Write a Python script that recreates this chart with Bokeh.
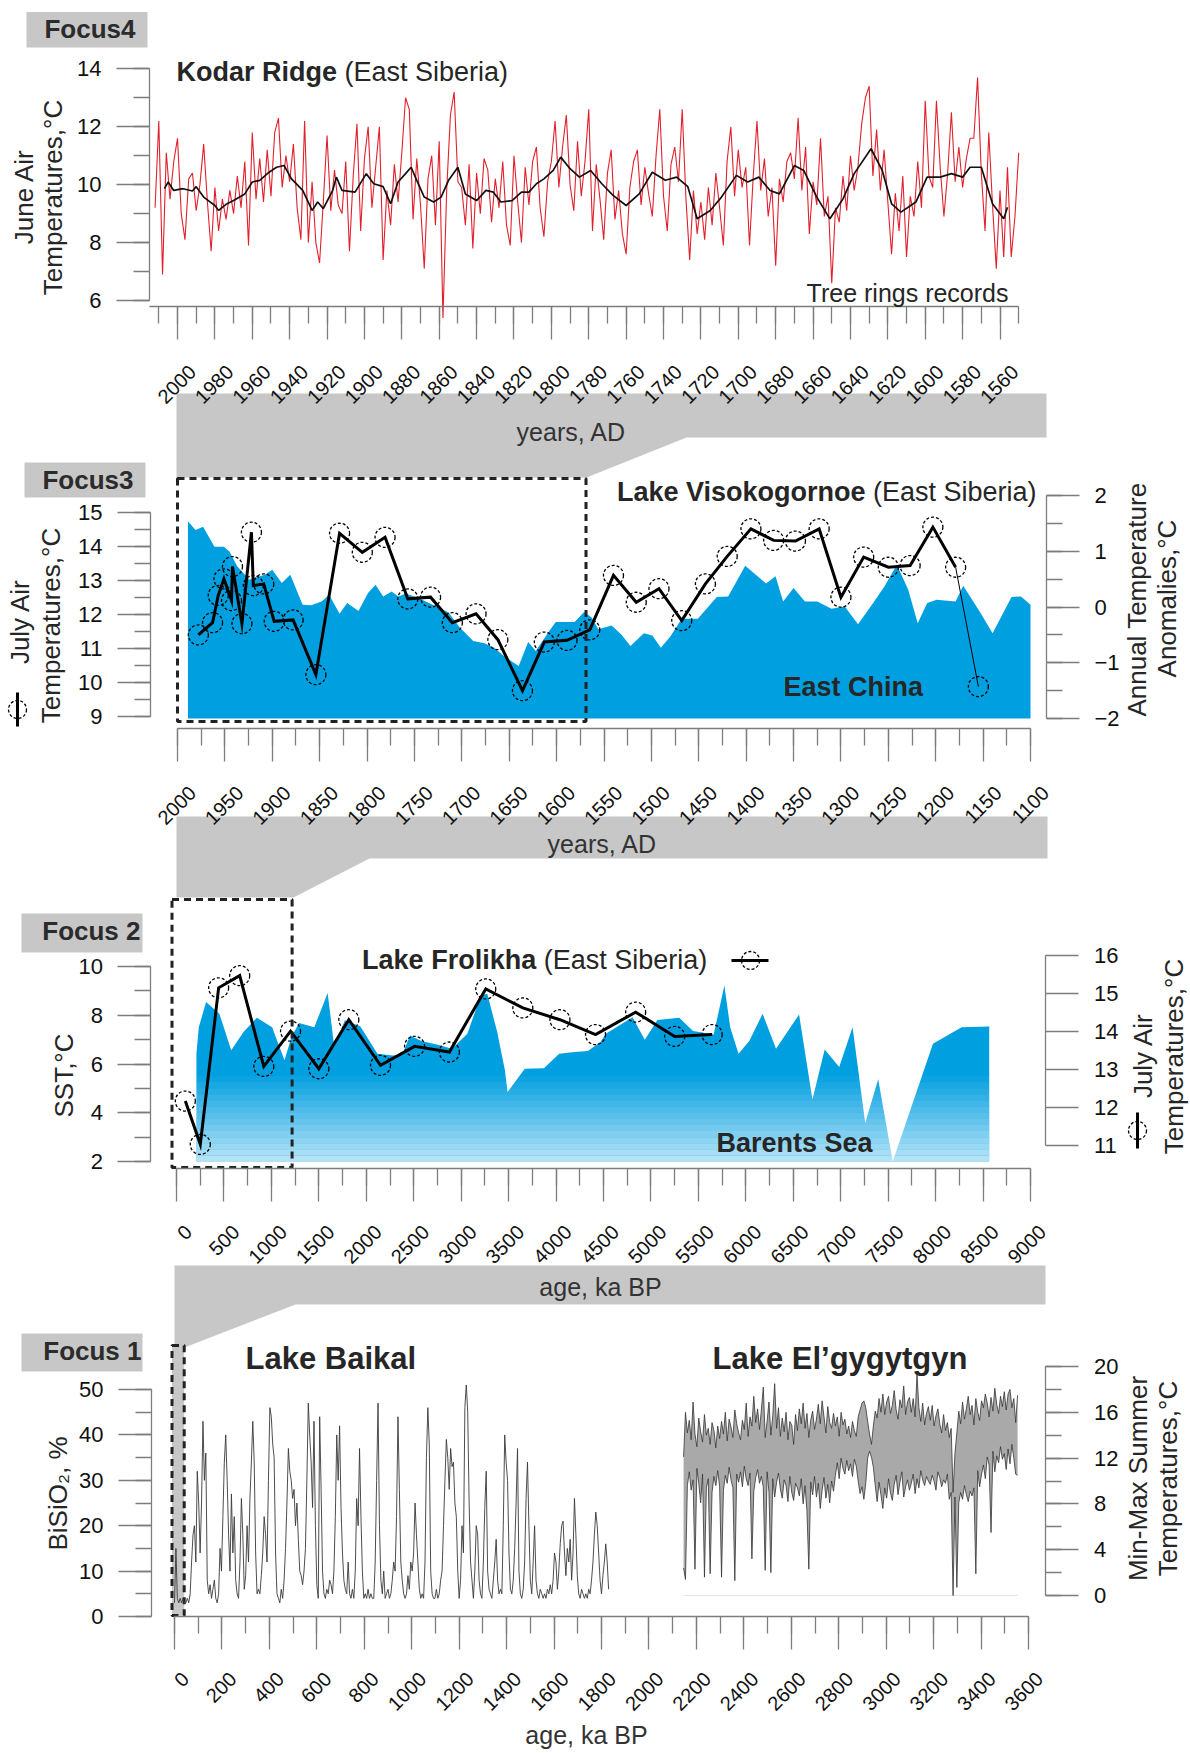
import math
from bokeh.plotting import figure
from bokeh.models import Range1d, LinearAxis, SingleIntervalTicker, Label
from bokeh.embed import file_html
from bokeh.resources import INLINE

# ======================= DATA =======================
# Focus 4 - Kodar Ridge (tree rings), June air temperature, degC
kodar_years = list(range(2012, 1549, -2))
kodar_june = [
    9.2, 12.2, 6.9, 11.1, 9.5, 10.8, 11.6, 9.0, 8.1, 10.2,
    10.4, 9.1, 10.0, 11.4, 9.4, 7.7, 9.9, 8.4, 9.5, 8.8,
    9.8, 9.0, 10.3, 9.2, 10.8, 7.9, 11.8, 9.5, 10.9, 9.4,
    11.2, 9.6, 11.8, 12.3, 9.9, 11.0, 10.1, 11.4, 9.2, 8.1,
    12.2, 8.0, 10.1, 8.0, 7.3, 9.4, 11.7, 9.1, 10.5, 9.3,
    9.0, 10.8, 7.7, 10.3, 12.1, 8.4, 10.9, 12.0, 9.2, 10.6,
    12.0, 7.4, 9.8, 8.6, 10.7, 9.4, 11.1, 13.0, 12.6, 8.8,
    10.9, 9.3, 7.1, 10.2, 11.0, 8.6, 11.5, 5.4, 9.8, 12.4,
    13.2, 10.1, 9.9, 8.6, 10.7, 7.8, 10.4, 9.0, 10.9, 10.5,
    8.7, 10.2, 9.2, 10.8, 8.6, 7.9, 11.0, 9.4, 8.0, 10.6,
    9.3, 10.8, 11.3, 9.2, 8.2, 10.1, 10.8, 12.2, 9.9, 11.3,
    12.4, 10.0, 9.1, 11.5, 9.6, 10.8, 12.6, 8.4, 10.7, 9.5,
    8.1, 10.4, 11.2, 8.8, 9.8, 8.3, 7.6, 9.9, 10.8, 11.2,
    9.3, 10.6, 9.7, 8.9, 11.0, 12.6, 9.6, 8.4, 10.7, 11.3,
    10.1, 12.6, 9.5, 7.4, 9.8, 8.3, 9.4, 8.1, 9.9, 8.6,
    10.4, 9.2, 7.9, 10.8, 12.0, 9.6, 11.2, 9.9, 10.6, 7.9,
    10.3, 12.2, 9.8, 10.9, 8.9, 9.9, 7.2, 10.2, 9.4, 10.8,
    11.1, 10.2, 12.3, 9.8, 11.3, 8.3, 10.1, 9.3, 11.6, 8.9,
    9.6, 6.6, 9.2, 8.7, 10.3, 9.1, 11.0, 9.8, 10.6, 12.1,
    13.0, 13.4, 10.3, 11.9, 9.8, 11.2, 9.4, 7.6, 9.7, 8.4,
    10.3, 7.5, 9.6, 8.9, 10.8, 9.2, 12.9, 10.3, 9.9, 12.9,
    10.6, 8.9, 10.4, 12.5, 10.1, 11.3, 9.9, 10.9, 11.6, 11.6,
    13.7, 10.4, 8.4, 11.8, 9.3, 7.1, 9.8, 7.5, 10.6, 7.5,
    8.9, 11.1]
kodar_smooth_years = [
    2007, 2005, 2002, 1997, 1992, 1990, 1986, 1980, 1978, 1974,
    1970, 1964, 1960, 1956, 1951, 1947, 1943, 1939, 1933, 1928,
    1925, 1922, 1917, 1915, 1912, 1905, 1899, 1895, 1890, 1886,
    1882, 1878, 1875, 1872, 1868, 1863, 1859, 1855, 1850, 1846,
    1840, 1835, 1831, 1827, 1821, 1816, 1812, 1808, 1804, 1799,
    1795, 1790, 1785, 1779, 1773, 1767, 1760, 1753, 1746, 1739,
    1733, 1727, 1722, 1715, 1709, 1701, 1695, 1689, 1683, 1678,
    1670, 1665, 1658, 1651, 1644, 1638, 1629, 1623, 1618, 1613,
    1605, 1599, 1592, 1586, 1580, 1576, 1570, 1564, 1558, 1556]
kodar_smooth = [
    9.86, 10.09, 9.80, 9.86, 9.78, 9.93, 9.57, 9.28, 9.11, 9.32,
    9.45, 9.68, 10.09, 10.15, 10.43, 10.60, 10.66, 10.20, 9.80, 9.11,
    9.40, 9.17, 9.80, 10.26, 9.80, 9.74, 10.38, 10.03, 9.93, 9.34,
    10.09, 10.38, 10.60, 10.15, 9.57, 9.40, 9.57, 10.15, 10.60, 9.68,
    9.45, 9.80, 9.74, 9.40, 9.45, 9.74, 9.74, 10.03, 10.20, 10.49,
    10.95, 10.55, 10.26, 10.49, 10.03, 9.63, 9.28, 9.68, 10.43, 10.15,
    10.26, 9.93, 8.82, 9.11, 9.57, 10.32, 10.09, 10.26, 9.80, 9.68,
    10.66, 10.49, 9.57, 8.82, 9.51, 10.38, 11.24, 10.49, 9.34, 9.05,
    9.40, 10.26, 10.26, 10.38, 10.26, 10.60, 10.60, 9.34, 8.82, 9.22]

# Focus 3 - Lake Visokogornoe July air temperature (left) / East China anomalies (right)
viso_years = [1978, 1963, 1957, 1951, 1943, 1942, 1932, 1922, 1920, 1909,
              1898, 1878, 1854, 1829, 1805, 1781, 1757, 1733, 1710, 1685,
              1662, 1636, 1613, 1589, 1565, 1540, 1516, 1492, 1468, 1443,
              1420, 1395, 1371, 1348, 1323, 1300, 1276, 1250, 1227, 1203,
              1179, 1155]
viso_july = [11.40, 11.76, 12.56, 13.05, 12.41, 13.41, 11.73, 14.42, 12.85, 12.90,
             11.80, 11.84, 10.23, 14.39, 13.83, 14.27, 12.46, 12.51, 11.76, 12.02,
             11.26, 9.76, 11.19, 11.24, 11.55, 13.15, 12.36, 12.76, 11.82, 12.90,
             13.71, 14.52, 14.18, 14.16, 14.52, 12.51, 13.69, 13.39, 13.44, 14.57,
             13.39, 9.88]
china_years = [1989, 1981, 1973, 1961, 1951, 1945, 1937, 1924, 1908, 1900,
               1890, 1881, 1868, 1859, 1848, 1840, 1829, 1821, 1809, 1799,
               1791, 1783, 1774, 1767, 1759, 1743, 1727, 1714, 1702, 1688,
               1676, 1666, 1654, 1640, 1630, 1622, 1609, 1601, 1581, 1571,
               1563, 1556, 1542, 1532, 1522, 1508, 1499, 1490, 1480, 1468,
               1451, 1431, 1419, 1401, 1379, 1369, 1361, 1350, 1338, 1325,
               1310, 1296, 1282, 1266, 1254, 1241, 1229, 1219, 1209, 1199,
               1179, 1171, 1153, 1140, 1120, 1110, 1100]
china_anom = [1.54, 1.38, 1.44, 1.08, 1.08, 0.99, 0.73, 0.49, 0.58, 0.67,
              0.43, 0.58, 0.04, 0.03, 0.10, 0.22, -0.12, 0.07, -0.07, 0.25,
              0.40, 0.19, 0.28, 0.19, 0.24, 0.14, 0.01, -0.10, -0.37, -0.61,
              -0.65, -0.73, -0.90, -1.06, -0.63, -0.79, -0.46, -0.27, -0.27, -0.09,
              -0.19, -0.40, -0.33, -0.49, -0.70, -0.47, -0.51, -0.73, -0.53, -0.21,
              -0.21, 0.18, 0.19, 0.74, 0.42, 0.55, 0.10, 0.34, 0.10, 0.10,
              -0.03, 0.01, -0.31, 0.07, 0.37, 0.76, 0.31, -0.29, 0.07, 0.13,
              0.10, 0.38, -0.10, -0.47, 0.18, 0.19, 0.04]

# Focus 2 - Lake Frolikha July air temperature (right) / Barents Sea SST (left)
frol_age = [93, 251, 444, 666, 920, 1202, 1500, 1816, 2150, 2509,
            2876, 3259, 3650, 4041, 4416, 4839, 5250, 5645]
frol_july = [12.17, 11.03, 15.15, 15.47, 13.08, 14.01, 13.02, 14.31, 13.11, 13.61,
             13.46, 15.12, 14.62, 14.31, 13.92, 14.51, 13.87, 13.92]
barents_age = [210, 235, 312, 452, 577, 706, 847, 1008, 1138, 1211,
               1291, 1452, 1593, 1662, 1775, 1936, 2118, 2279, 2380, 2461,
               2581, 2743, 2904, 3065, 3207, 3275, 3380, 3461, 3489, 3670,
               3872, 4033, 4194, 4335, 4468, 4524, 4806, 4935, 5068, 5298,
               5444, 5661, 5774, 5835, 5923, 6036, 6177, 6318, 6561, 6702,
               6831, 6984, 7125, 7258, 7395, 7548, 7972, 8274, 8565]
barents_sst = [6.42, 7.51, 8.54, 8.06, 6.56, 7.31, 7.90, 7.51, 6.15, 7.10,
               7.68, 7.51, 8.91, 6.72, 7.79, 7.55, 6.42, 6.35, 6.39, 7.17,
               6.94, 6.80, 6.63, 7.24, 8.81, 8.88, 7.31, 5.74, 4.85, 5.81,
               5.83, 6.42, 6.49, 6.53, 6.90, 7.24, 7.92, 6.99, 7.81, 7.90,
               7.35, 7.21, 9.22, 7.51, 6.42, 6.94, 8.06, 6.63, 8.03, 4.54,
               6.59, 5.88, 7.51, 3.58, 5.37, 2.00, 6.83, 7.51, 7.54]

# Focus 1 - Lake Baikal biogenic silica (left), Lake El'gygytgyn min/max summer T (right)
baikal_age = list(range(0, 1831, 6))
baikal_bsi = [
    3, 15, 4, 3, 4, 3, 4, 3, 3, 4,
    3, 5, 12, 18, 20, 12, 32, 25, 14, 25,
    43, 30, 36, 8, 5, 7, 4, 6, 8, 4,
    3, 5, 15, 10, 22, 34, 40, 30, 18, 10,
    27, 14, 22, 8, 5, 4, 12, 26, 18, 6,
    9, 20, 12, 26, 34, 43, 34, 14, 5, 6,
    5, 9, 14, 22, 18, 12, 30, 46, 44, 38,
    35, 14, 5, 4, 3, 6, 4, 8, 15, 25,
    37, 32, 30, 26, 28, 20, 25, 17, 10, 9,
    7, 10, 15, 30, 47, 40, 34, 24, 43, 20,
    7, 4, 44, 28, 10, 5, 4, 6, 5, 8,
    7, 5, 10, 22, 40, 30, 42, 24, 14, 8,
    6, 5, 12, 5, 4, 6, 4, 10, 26, 20,
    37, 22, 10, 4, 5, 4, 6, 4, 5, 4,
    4, 12, 30, 47, 20, 8, 5, 10, 4, 5,
    6, 4, 5, 8, 12, 10, 22, 44, 28, 12,
    8, 5, 4, 5, 9, 6, 12, 10, 14, 25,
    18, 12, 6, 4, 5, 4, 12, 35, 46, 38,
    10, 5, 4, 4, 6, 4, 5, 8, 10, 20,
    30, 39, 35, 28, 37, 33, 34, 25, 22, 10,
    4, 8, 20, 14, 46, 51, 45, 25, 12, 8,
    4, 10, 20, 18, 8, 5, 4, 12, 24, 32,
    10, 6, 5, 4, 8, 12, 17, 8, 5, 6,
    5, 20, 40, 34, 30, 14, 6, 5, 8, 15,
    25, 37, 10, 5, 4, 6, 12, 26, 34, 20,
    8, 5, 12, 20, 8, 5, 4, 6, 5, 4,
    5, 4, 6, 5, 7, 5, 8, 14, 12, 6,
    10, 16, 20, 21, 14, 9, 15, 12, 17, 8,
    14, 26, 18, 9, 5, 4, 6, 5, 4, 5,
    4, 6, 5, 8, 12, 18, 23, 20, 14, 8,
    5, 9, 12, 16, 12, 6]
elg_age = list(range(2146, 3555, 8))
elg_max = [
    12.1, 16.0, 14.2, 15.3, 13.6, 16.9, 14.1, 13.0, 15.5, 14.3,
    13.4, 15.8, 14.0, 14.6, 13.2, 15.1, 14.4, 12.9, 14.8, 13.7,
    15.2, 14.1, 16.0, 13.5, 15.4, 14.7, 13.8, 16.2, 15.0, 14.2,
    13.6, 15.3, 14.5, 16.8, 13.9, 15.6, 14.8, 17.4, 15.1, 16.3,
    14.5, 16.2, 18.2, 13.8, 15.2, 16.9, 14.0, 15.7, 18.5, 14.6,
    16.4, 13.9, 15.5, 14.3, 16.0, 13.6, 15.2, 14.9, 13.2, 15.8,
    14.4, 16.3, 15.0, 16.8, 14.6, 15.9, 13.8, 15.3, 16.1, 14.5,
    15.4, 16.7, 15.0, 17.0, 15.6, 14.2, 16.5, 15.1, 14.6, 15.9,
    14.8, 15.6, 13.9, 16.0, 14.9, 15.4, 14.1, 14.8, 13.8, 15.2,
    14.4, 13.9, 15.6, 16.2, 16.8, 17.0, 16.4, 15.2, 14.1, 13.2,
    14.8, 16.1, 15.5, 17.2, 16.0, 17.6, 15.8, 16.9, 17.4, 15.9,
    16.6, 17.9, 16.2, 15.4, 17.1, 16.4, 18.3, 15.8, 16.9, 17.3,
    16.0, 17.2, 15.6, 19.3, 16.4, 15.2, 16.8, 14.9, 15.9, 16.5,
    15.3, 16.6, 14.8, 15.7, 16.3, 15.0, 14.2, 15.8, 14.4, 15.1,
    13.8, 14.6, 9.0, 12.4, 14.2, 16.1, 15.0, 16.9, 15.4, 16.3,
    17.4, 15.8, 16.6, 14.9, 17.2, 16.0, 15.3, 17.0, 16.4, 17.6,
    16.8, 15.6, 17.3, 16.1, 18.1, 16.7, 15.9, 17.4, 16.5, 17.8,
    16.2, 17.6, 18.0, 16.4, 17.2, 15.1, 17.5]
elg_min = [
    2.4, 1.4, 9.6, 10.8, 9.2, 10.1, 2.3, 11.1, 9.8, 8.1,
    10.6, 1.6, 9.4, 10.2, 1.9, 9.0, 10.4, 9.6, 10.9, 9.5,
    1.6, 9.2, 10.5, 9.8, 11.2, 10.1, 9.4, 1.3, 10.6, 9.9,
    10.8, 9.5, 11.3, 10.2, 9.6, 10.7, 3.2, 9.1, 10.3, 11.0,
    9.8, 10.4, 9.5, 2.2, 10.8, 9.0, 2.0, 10.2, 8.6, 9.9,
    10.7, 9.3, 8.5, 10.1, 9.6, 8.2, 10.4, 9.0, 8.3, 9.8,
    9.4, 8.7, 10.2, 8.0, 9.6, 7.4, 2.3, 9.9, 8.8, 10.4,
    8.6, 9.8, 7.6, 9.2, 10.3, 8.5, 9.7, 8.1, 10.0, 9.1,
    10.5, 11.6, 10.2, 12.0, 11.1, 10.6, 11.8, 10.9, 11.5, 10.4,
    11.9, 11.3, 10.0, 8.9, 9.5, 8.4, 9.8, 12.0, 12.6, 12.1,
    11.2, 9.6, 8.2, 9.9, 8.8, 7.6, 9.4, 8.5, 10.2, 9.0,
    8.3, 9.7, 10.5, 8.8, 9.9, 10.8, 8.6, 9.5, 10.1, 9.2,
    9.8, 10.6, 8.9, 10.2, 9.4, 10.9, 10.1, 9.6, 10.4, 10.0,
    9.7, 10.5, 10.0, 9.2, 10.8, 10.3, 9.5, 10.1, 9.8, 10.6,
    8.4, 9.0, 0.0, 8.6, 0.7, 8.1, 9.0, 8.4, 9.6, 8.8,
    8.2, 9.1, 8.7, 9.4, 1.9, 10.9, 9.5, 10.6, 11.4, 10.2,
    12.1, 11.4, 5.5, 12.6, 10.8, 12.2, 11.6, 13.0, 11.9, 12.4,
    11.0, 12.8, 11.5, 13.2, 12.0, 10.6, 10.5]

# ======================= STYLE / LAYOUT =======================
FONT = "Liberation Sans"
TXT = "#262626"
AXC = "#7d7d7d"
BLUE = "#009fe0"
GRAY = "#c7c7c7"
RED = "#e2202c"

# canvas sits at the page's top-left corner
W, H = 1190, 1752
X0, Y0 = 0, 0
X1, Y1 = X0 + W, Y0 + H

xr, yr = {}, {}


def lin(v0, p0, v1, p1):
    b = (p1 - p0) / (v1 - v0)
    return p0 - b * v0, b


def reg_x(name, anchors, shift=0.0):
    v0, p0, v1, p1 = anchors
    a, b = lin(v0, p0 + shift, v1, p1 + shift)
    xr[name] = Range1d(start=(X0 - a) / b, end=(X1 - a) / b)
    return lambda pix: (pix - a) / b


def reg_y(name, anchors):
    a, b = lin(*anchors)
    yr[name] = Range1d(start=(Y1 - a) / b, end=(Y0 - a) / b)
    return lambda pix: (pix - a) / b


# (value, page px, value, page px)
A_X4 = (2000, 177, 1560, 999.5)
A_X3 = (2000, 177, 1100, 1030)
A_X2 = (0, 176, 9000, 1030)
A_X1 = (0, 174, 3600, 1028)
inv_x4 = reg_x("x4", A_X4)
reg_x("x4lab", A_X4, 15)
inv_y4 = reg_y("y4", (14, 68.3, 6, 300))
inv_x3 = reg_x("x3", A_X3)
reg_x("x3lab", A_X3, 15)
inv_y3l = reg_y("y3l", (15, 512, 9, 716))
inv_y3r = reg_y("y3r", (2, 495, -2, 718))
inv_x2 = reg_x("x2", A_X2)
reg_x("x2lab", A_X2, 12)
inv_y2l = reg_y("y2l", (10, 966, 2, 1161))
inv_y2r = reg_y("y2r", (16, 955, 11, 1145))
inv_x1 = reg_x("x1", A_X1)
reg_x("x1lab", A_X1, 11)
inv_y1l = reg_y("y1l", (50, 1389, 0, 1616))
inv_y1r = reg_y("y1r", (20, 1366, 0, 1595))

p = figure(width=W, height=H, output_backend="svg", toolbar_location=None,
           x_range=Range1d(X0, X1), y_range=Range1d(Y1, Y0),
           x_axis_type=None, y_axis_type=None, min_border=0,
           outline_line_color=None, background_fill_color="white",
           border_fill_color="white")
p.extra_x_ranges = xr
p.extra_y_ranges = yr


def style(ax, size, tout, mout, standoff):
    ax.axis_line_color = AXC
    ax.axis_line_width = 1.3
    ax.major_tick_line_color = AXC
    ax.major_tick_line_width = 1.3
    ax.minor_tick_line_color = AXC
    ax.minor_tick_line_width = 1.3
    ax.major_tick_in = 0
    ax.minor_tick_in = 0
    ax.major_tick_out = tout
    ax.minor_tick_out = mout
    ax.major_label_text_font = FONT
    ax.major_label_text_font_size = f"{size}px"
    ax.major_label_text_color = "#111111"
    ax.major_label_standoff = standoff


def xaxis(xn, yn, loc, bounds, interval, standoff):
    # tick axis (line + ticks)
    ax = LinearAxis(x_range_name=xn, y_range_name=yn, fixed_location=loc, bounds=bounds,
                    ticker=SingleIntervalTicker(interval=interval, num_minor_ticks=2))
    style(ax, 20, 33, 17, 14)
    ax.major_label_text_color = None
    p.add_layout(ax, "below")
    # label axis: same scale, labels centred under the ticks
    lab = LinearAxis(x_range_name=xn + "lab", y_range_name=yn, fixed_location=loc,
                     bounds=bounds,
                     ticker=SingleIntervalTicker(interval=interval, num_minor_ticks=2))
    style(lab, 20, 0, 0, standoff)
    lab.axis_line_color = None
    lab.major_tick_line_color = None
    lab.minor_tick_line_color = None
    lab.major_label_orientation = math.pi / 4
    p.add_layout(lab, "below")


def yaxis(xn, yn, loc, bounds, interval, side, minor=2):
    ax = LinearAxis(x_range_name=xn, y_range_name=yn, fixed_location=loc, bounds=bounds,
                    ticker=SingleIntervalTicker(interval=interval, num_minor_ticks=minor))
    style(ax, 22, 33, 16, 15)
    if minor == 0:
        ax.minor_tick_line_color = None
    p.add_layout(ax, side)


BASE_SHIFT = 0.39   # anchor offset (in em) between the label anchor and the text baseline


def label(x, y, text, size, bold=False, align="left", angle=0.0, color=TXT):
    # x, y give the baseline position of the text (page px)
    if angle == 0.0:
        y = y - BASE_SHIFT * size
    else:
        x = x - BASE_SHIFT * size
    p.add_layout(Label(x=x, y=y, text=text, text_font=FONT, text_font_size=f"{size}px",
                       text_font_style="bold" if bold else "normal", text_align=align,
                       text_baseline="alphabetic", angle=angle, text_color=color))


REG = {' ': 278, '(': 333, ')': 333, 'E': 667, 'S': 667, 'a': 556, 'b': 556, 'e': 556,
       'i': 222, 'r': 333, 's': 500, 't': 278}
BOLD = {' ': 278, 'L': 611, 'K': 722, 'R': 722, 'V': 667, 'F': 611, 'a': 556, 'd': 611,
        'e': 556, 'g': 611, 'h': 611, 'i': 278, 'k': 556, 'l': 278, 'n': 611, 'o': 611,
        'r': 389, 's': 556}


def tw(s, size, bold=False):
    t = BOLD if bold else REG
    return sum(t.get(c, 556) for c in s) * size / 1000.0


def vmarker(x, yc, half):
    p.line([x, x], [yc - half, yc + half], line_color="black", line_width=3)
    p.scatter([x], [yc], marker="circle", size=18, fill_color=None,
              line_color="black", line_width=1.3, line_dash="3 2")


# ----- gray bands joining panels (page layout) -----
bands = [
    ([176, 1046, 1046, 686, 586, 176], [393, 393, 437, 437, 477, 477]),
    ([176, 1047, 1047, 369, 293, 176], [816, 816, 858, 858, 897, 897]),
    ([174, 1045, 1045, 295, 184, 174], [1265, 1265, 1304, 1304, 1347, 1347]),
]
for bx, by in bands:
    p.patch(bx, by, fill_color=GRAY, line_color=None)

# ----- "Focus" tags -----
tags = [("Focus4", 26, 147, 11.5, 47, 135, 39),
        ("Focus3", 24, 145, 462, 497, 133, 490),
        ("Focus 2", 21, 142, 913, 952, 140, 941),
        ("Focus 1", 21, 142, 1333, 1371, 141, 1361)]
for t, l, r, tp, bt, tx, ty in tags:
    p.quad(left=[l], right=[r], top=[tp], bottom=[bt], fill_color=GRAY, line_color=None)
    label(tx, ty, t, 26, bold=True, align="right", color="#2b2b2b")

# ======================= FOCUS 4 =======================
p.line(kodar_years, kodar_june, x_range_name="x4", y_range_name="y4",
       line_color=RED, line_width=1.1)
p.line(kodar_smooth_years, kodar_smooth, x_range_name="x4", y_range_name="y4",
       line_color="#111111", line_width=1.7)
xaxis("x4", "y4", inv_y4(306), (1550, 2015), 20, 62)
yaxis("x4", "y4", inv_x4(149), (6, 14), 2, "left")
label(176, 82, "Kodar Ridge", 27, bold=True)
label(176 + tw("Kodar Ridge ", 27, True), 82, "(East Siberia)", 27)
label(1008, 302, "Tree rings records", 25, align="right")
label(34, 196, "June Air", 26, align="center", angle=math.pi / 2)
label(63, 197, "Temperatures,°C", 26, align="center", angle=math.pi / 2)
label(571, 441, "years, AD", 25, align="center", color="#333333")

# ======================= FOCUS 3 =======================
p.varea(x=china_years, y1=-2, y2=china_anom, x_range_name="x3", y_range_name="y3r",
        fill_color=BLUE)
p.line(viso_years[:-1], viso_july[:-1], x_range_name="x3", y_range_name="y3l",
       line_color="black", line_width=3, line_join="miter")
p.line(viso_years[-2:], viso_july[-2:], x_range_name="x3", y_range_name="y3l",
       line_color="black", line_width=1)
p.scatter(viso_years, viso_july, x_range_name="x3", y_range_name="y3l", marker="circle",
          size=20, fill_color=None, line_color="black", line_width=1.3, line_dash="3 2")
p.quad(left=[177], right=[585.5], top=[478], bottom=[721], fill_color=None,
       line_color="#222222", line_width=3, line_dash="7 5")
xaxis("x3", "y3l", inv_y3l(728), (1100, 2000), 50, 61)
yaxis("x3", "y3l", inv_x3(150), (9, 15), 1, "left")
yaxis("x3", "y3r", inv_x3(1046), (-2, 2), 1, "right")
label(1036 - tw("(East Siberia)", 27), 502, "Lake Visokogornoe ", 27, bold=True, align="right")
label(1036, 502, "(East Siberia)", 27, align="right")
label(783, 697, "East China", 27, bold=True)
label(30, 621, "July Air", 26, align="center", angle=math.pi / 2)
label(61, 625, "Temperatures,°C", 26, align="center", angle=math.pi / 2)
vmarker(17, 709, 17)
label(1147, 599, "Annual Temperature", 26, align="center", angle=math.pi / 2)
label(1177, 598, "Anomalies,°C", 26, align="center", angle=math.pi / 2)
label(602, 853, "years, AD", 25, align="center", color="#333333")

# ======================= FOCUS 2 =======================
p.varea(x=barents_age, y1=2, y2=barents_sst, x_range_name="x2", y_range_name="y2l",
        fill_color=BLUE)
# fading of the lower part of the SST area (gradient look)
for k in range(14):
    top_v = 5.5 - 0.25 * k
    p.quad(left=[barents_age[0]], right=[barents_age[-1]], top=[top_v], bottom=[top_v - 0.25],
           x_range_name="x2", y_range_name="y2l", fill_color="white",
           fill_alpha=0.05 * (k + 1), line_color=None)
p.line(frol_age, frol_july, x_range_name="x2", y_range_name="y2r",
       line_color="black", line_width=3, line_join="miter")
p.scatter(frol_age, frol_july, x_range_name="x2", y_range_name="y2r", marker="circle",
          size=20, fill_color=None, line_color="black", line_width=1.3, line_dash="3 2")
p.quad(left=[171.5], right=[291.6], top=[899], bottom=[1167], fill_color=None,
       line_color="#222222", line_width=3, line_dash="7 5")
xaxis("x2", "y2l", inv_y2l(1168), (0, 9000), 500, 60)
yaxis("x2", "y2l", inv_x2(150.4), (2, 10), 2, "left")
yaxis("x2", "y2r", inv_x2(1045.4), (11, 16), 1, "right", minor=0)
label(361.6, 970, "Lake Frolikha", 27, bold=True)
label(361.6 + tw("Lake Frolikha ", 27, True), 970, "(East Siberia)", 27)
p.line([731, 768], [960, 960], line_color="black", line_width=3)
p.scatter([750], [960], marker="circle", size=18, fill_color=None, line_color="black",
          line_width=1.3, line_dash="3 2")
label(716, 1153, "Barents Sea", 27, bold=True)
label(74, 1075, "SST,°C", 26, align="center", angle=math.pi / 2)
label(1153, 1055, "July Air", 26, align="center", angle=math.pi / 2)
label(1184, 1056, "Temperatures,°C", 26, align="center", angle=math.pi / 2)
vmarker(1137, 1130, 18)
label(600, 1296, "age, ka BP", 25, align="center", color="#333333")

# ======================= FOCUS 1 =======================
p.quad(left=[171.5], right=[183.7], top=[1345], bottom=[1615], fill_color=GRAY,
       line_color="#222222", line_width=3, line_dash="7 5")
p.line(baikal_age, baikal_bsi, x_range_name="x1", y_range_name="y1l",
       line_color="#3a3a3a", line_width=0.9)
p.line([elg_age[0], elg_age[-1]], [0, 0], x_range_name="x1", y_range_name="y1r",
       line_color="#e3e3e3", line_width=1)
p.varea(x=elg_age, y1=elg_min, y2=elg_max, x_range_name="x1", y_range_name="y1r",
        fill_color="#a9a9a9")
p.line(elg_age, elg_max, x_range_name="x1", y_range_name="y1r",
       line_color="#333333", line_width=0.8)
p.line(elg_age, elg_min, x_range_name="x1", y_range_name="y1r",
       line_color="#333333", line_width=0.8)
xaxis("x1", "y1l", inv_y1l(1616), (0, 3600), 200, 59)
yaxis("x1", "y1l", inv_x1(151), (0, 50), 10, "left")
yaxis("x1", "y1r", inv_x1(1045.4), (0, 20), 4, "right")
label(245, 1370, "Lake Baikal", 31, bold=True)
label(712, 1370, "Lake El’gygytgyn", 31, bold=True)
label(68, 1493, "BiSiO₂, %", 26, align="center", angle=math.pi / 2)
label(1148, 1478, "Min-Max Summer", 26, align="center", angle=math.pi / 2)
label(1178, 1478, "Temperatures,°C", 26, align="center", angle=math.pi / 2)
label(586, 1744, "age, ka BP", 25, align="center", color="#333333")

open("out.html", "w").write(file_html(p, INLINE))
